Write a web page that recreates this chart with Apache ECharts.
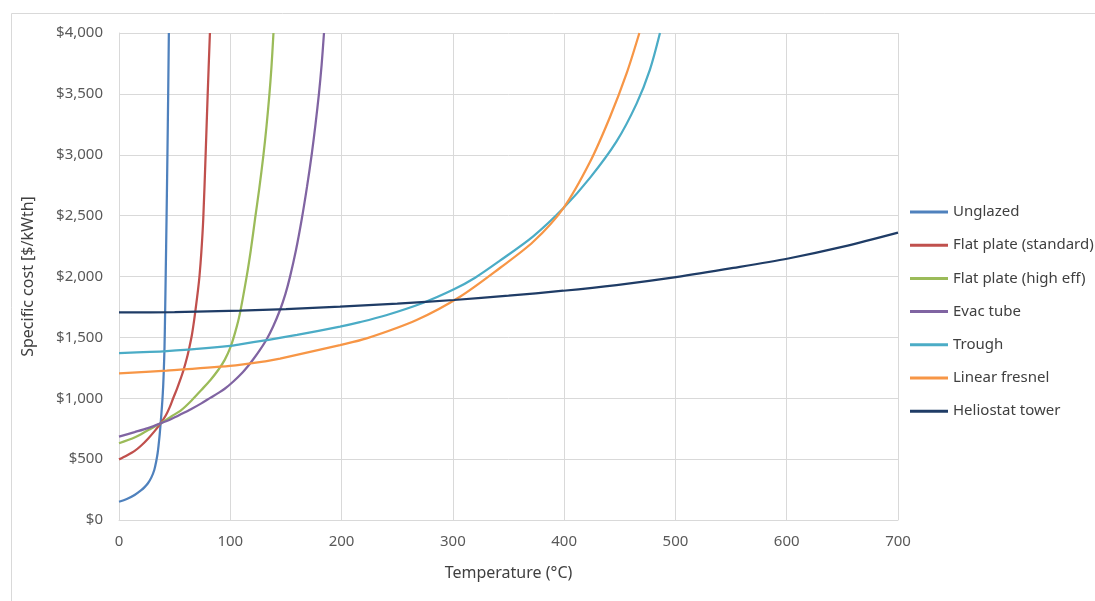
<!DOCTYPE html>
<html>
<head>
<meta charset="utf-8">
<script src="https://cdn.jsdelivr.net/npm/echarts@6/dist/echarts.min.js"></script>
<style>
html,body{margin:0;padding:0;background:#fff;}
#chart{width:1095px;height:601px;}
</style>
</head>
<body>
<div id="chart"></div>
<script>
// Temperature (°C), specific cost ($/kWth) pairs
const unglazed = [[0,150],[7,172],[14,205],[20,245],[23,270],[26,302],[29,348],[31.7,411],[33.3,475],[34.7,548],[35.7,625],[36.6,705],[37.4,794],[38.2,885],[39,986],[39.7,1100],[40.3,1240],[40.9,1420],[41.4,1680],[42,2030],[42.7,2460],[43.5,2990],[44.2,3500],[44.8,4000]];
const flatStd = [[0,498],[7,530],[14.4,570],[20,612],[26.3,670],[32,730],[37.4,794],[42,858],[45.5,925],[48.7,1000],[52,1075],[55,1150],[58,1232],[61,1330],[63.5,1430],[65.5,1520],[67.5,1640],[69.5,1780],[71,1890],[72.3,2000],[74,2200],[75.7,2470],[77.8,2990],[79.7,3500],[81.7,4000]];
const flatHigh = [[0,630],[14.4,679],[26.3,739],[37.4,794],[47,850],[56.2,905],[65,980],[74,1068],[82,1148],[89,1230],[95,1315],[100,1415],[104.5,1545],[108.5,1690],[114.7,1999],[118.5,2220],[122.2,2470],[126,2720],[129.7,2990],[132.5,3230],[135.1,3490],[137,3720],[138.8,4000]];
const evacTube = [[0,685],[14,722],[26,755],[37.4,794],[47,830],[56,870],[65,912],[74,958],[82,1003],[89,1042],[95,1078],[103,1140],[111,1212],[116,1265],[120.5,1318],[126.5,1395],[132.7,1485],[138.5,1590],[144.7,1725],[149.5,1855],[153.7,1999],[159,2215],[164.2,2470],[169,2740],[173.1,2998],[176.7,3260],[179.7,3505],[182.1,3740],[184.2,4000]];
const trough = [[0,1370],[27.9,1381],[42.8,1388],[70,1405],[99.7,1430],[108.7,1443],[132.7,1478],[160,1520],[198.6,1588],[216.5,1625],[240,1682],[273.5,1785],[301,1895],[320,1990],[342.3,2130],[372.2,2330],[399.2,2560],[423.2,2810],[447.1,3110],[465.1,3420],[477.1,3700],[486.1,4000]];
const linearFresnel = [[0,1205],[42.8,1227],[99.7,1265],[132.7,1305],[144.7,1325],[198.6,1437],[222.5,1492],[267.4,1643],[306.4,1834],[342.3,2070],[372.2,2285],[399.2,2560],[423.2,2940],[441.2,3310],[456.2,3670],[467.6,4000]];
const heliostat = [[0,1705],[50,1708],[108.7,1719],[150,1733],[198.6,1752],[250,1777],[301,1807],[350,1843],[399.2,1883],[447.1,1930],[500.5,1995],[552,2070],[601.4,2148],[650.8,2245],[700,2360]];

const seriesNames = ['Unglazed','Flat plate (standard)','Flat plate (high eff)','Evac tube','Trough','Linear fresnel','Heliostat tower'];
const seriesData = [unglazed, flatStd, flatHigh, evacTube, trough, linearFresnel, heliostat];
const seriesColors = ['#4f81bd','#c0504d','#9bbb59','#8064a2','#4bacc6','#f79646','#1f3c66'];

const xTitle = 'Temperature (°C)';
const yTitle = 'Specific cost [$/kWth]';

const FONT = '"Noto Sans", "Open Sans", sans-serif';
const chart = echarts.init(document.getElementById('chart'), null, {renderer:'canvas'});
chart.setOption({
  animation: false,
  backgroundColor: '#ffffff',
  graphic: [{
    type: 'rect', left: 9, top: 11, silent: true,
    shape: {x: 0, y: 0, width: 1200, height: 700},
    style: {fill: 'none', stroke: '#d9d9d9', lineWidth: 1}
  }],
  grid: {left: 119, right: 197, top: 33, bottom: 81},
  legend: {
    orient: 'vertical', left: 910, top: 203, padding: 0,
    itemWidth: 38, itemHeight: 3, itemGap: 15.2,
    icon: 'rect',
    textStyle: {fontFamily: FONT, fontSize: 15, color: '#404040', lineHeight: 18, padding: [0,0,0,0]},
    data: seriesNames
  },
  xAxis: {
    type: 'value', min: 0, max: 700, interval: 100,
    name: xTitle, nameLocation: 'middle', nameGap: 45,
    nameTextStyle: {fontFamily: FONT, fontSize: 16, color: '#404040'},
    axisLine: {show: true, lineStyle: {color: '#d9d9d9', width: 1}},
    axisTick: {show: false},
    axisLabel: {fontFamily: FONT, fontSize: 15, color: '#595959', margin: 14},
    splitLine: {show: true, lineStyle: {color: '#d9d9d9', width: 1}}
  },
  yAxis: {
    type: 'value', min: 0, max: 4000, interval: 500,
    name: yTitle, nameLocation: 'middle', nameGap: 83, nameRotate: 90,
    nameTextStyle: {fontFamily: FONT, fontSize: 16, color: '#404040'},
    axisLine: {show: true, lineStyle: {color: '#d9d9d9', width: 1}},
    axisTick: {show: false},
    axisLabel: {
      fontFamily: FONT, fontSize: 15, color: '#595959', margin: 16,
      formatter: v => '$' + v.toLocaleString('en-US')
    },
    splitLine: {show: true, lineStyle: {color: '#d9d9d9', width: 1}}
  },
  series: seriesNames.map((n, i) => ({
    name: n, type: 'line', data: seriesData[i],
    smooth: 0.3,
    showSymbol: false, symbol: 'none', clip: true,
    lineStyle: {color: seriesColors[i], width: 2.25},
    itemStyle: {color: seriesColors[i]},
    z: 2 + i
  }))
});
</script>
</body>
</html>
